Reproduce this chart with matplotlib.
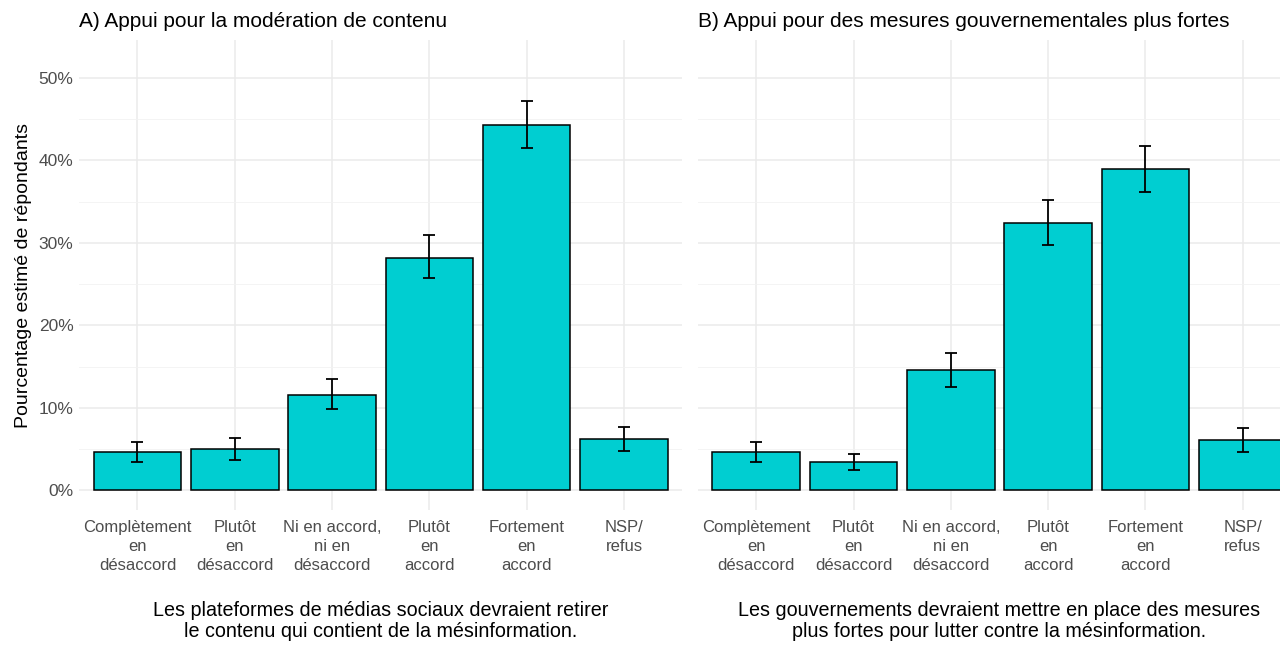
import matplotlib.pyplot as plt
from matplotlib.ticker import MultipleLocator, FuncFormatter

plt.rcParams["font.family"] = ["Liberation Sans", "DejaVu Sans"]

categories = ["Complètement\nen\ndésaccord", "Plutôt\nen\ndésaccord",
              "Ni en accord,\nni en\ndésaccord", "Plutôt\nen\naccord",
              "Fortement\nen\naccord", "NSP/\nrefus"]

# panel A - moderation de contenu
a_val = [4.6, 5.0, 11.6, 28.2, 44.3, 6.2]
a_low = [3.4, 3.7, 9.8, 25.7, 41.5, 4.8]
a_high = [5.8, 6.3, 13.5, 30.9, 47.2, 7.7]

# panel B - mesures gouvernementales
b_val = [4.6, 3.4, 14.6, 32.4, 39.0, 6.1]
b_low = [3.4, 2.4, 12.5, 29.7, 36.2, 4.6]
b_high = [5.8, 4.4, 16.7, 35.2, 41.8, 7.5]

titles = ["A) Appui pour la modération de contenu",
          "B) Appui pour des mesures gouvernementales plus fortes"]
xtitles = ["Les plateformes de médias sociaux devraient retirer\nle contenu qui contient de la mésinformation.",
           "Les gouvernements devraient mettre en place des mesures\nplus fortes pour lutter contre la mésinformation."]

fig = plt.figure(figsize=(12.8, 6.46), dpi=100)
axA = fig.add_axes([0.0618, 0.2105, 0.4713, 0.7276])
axB = fig.add_axes([0.5452, 0.2105, 0.4713, 0.7276])

data = [(a_val, a_low, a_high), (b_val, b_low, b_high)]
x = list(range(1, len(categories) + 1))

for i, ax in enumerate([axA, axB]):
    val, low, high = data[i]
    yerr = [[v - l for v, l in zip(val, low)], [h - v for v, h in zip(val, high)]]
    ax.bar(x, val, width=0.9, color="#00CED1", edgecolor="black", linewidth=1.1, zorder=2)
    ax.errorbar(x, val, yerr=yerr, fmt="none", ecolor="black", elinewidth=1.3,
                capsize=4.5, capthick=1.3, zorder=3)
    ax.set_xlim(0.4, 6.6)
    ax.set_ylim(-2.4, 54.6)
    ax.yaxis.set_minor_locator(MultipleLocator(5))
    ax.set_yticks([0, 10, 20, 30, 40, 50])
    ax.yaxis.set_major_formatter(FuncFormatter(lambda v, p: f"{v:.0f}%"))
    ax.set_xticks(x)
    ax.set_xticklabels(categories, fontsize=12, color="#4D4D4D", linespacing=1.35)
    ax.grid(which="major", color="#EBEBEB", linewidth=1.1, zorder=0)
    ax.grid(which="minor", axis="y", color="#F2F2F2", linewidth=0.6, zorder=0)
    ax.set_axisbelow(True)
    for s in ax.spines.values():
        s.set_visible(False)
    ax.tick_params(axis="x", length=0, pad=7, labelsize=12, labelcolor="#4D4D4D")
    ax.tick_params(axis="y", length=0, pad=4, labelsize=12.5, labelcolor="#4D4D4D")
    ax.tick_params(axis="y", which="minor", length=0)
    ax.set_title(titles[i], loc="left", fontsize=15, pad=9)
    ax.set_xlabel(xtitles[i], fontsize=14.2, labelpad=20, linespacing=1.12)

axA.set_ylabel("Pourcentage estimé de répondants", fontsize=14, labelpad=5)
axB.tick_params(axis="y", labelleft=False)

fig.savefig("out.png", dpi=100)
